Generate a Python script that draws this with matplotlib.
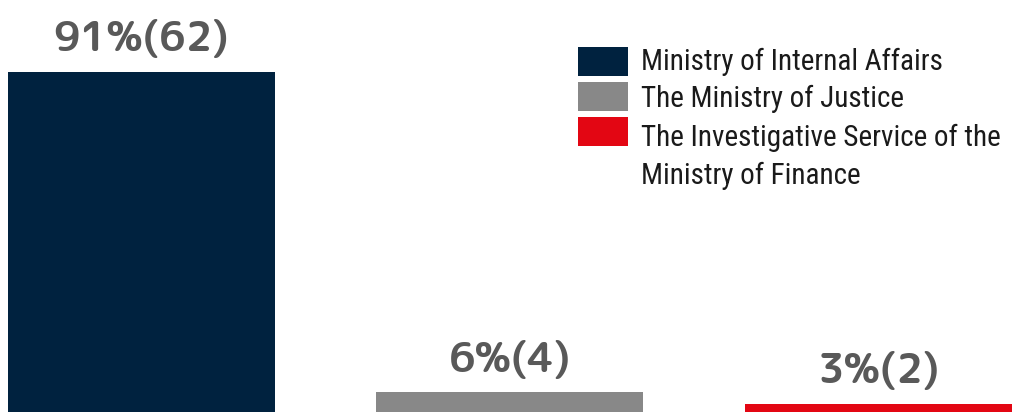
import matplotlib
matplotlib.use("Agg")
import matplotlib.pyplot as plt
from matplotlib.patches import Rectangle

# Share of cases by investigating body, with case counts
categories = ["Ministry of Internal Affairs",
              "The Ministry of Justice",
              "The Investigative Service of the\nMinistry of Finance"]
percents = [91, 6, 3]
counts = [62, 4, 2]
colors = ["#00223f", "#888888", "#e30613"]
value_labels = [f"{p}%({c})" for p, c in zip(percents, counts)]

W, H, DPI = 1024, 412, 100
fig = plt.figure(figsize=(W / DPI, H / DPI), dpi=DPI)
ax = fig.add_axes([0, 0, 1, 1])
ax.set_axis_off()

xpos = list(range(len(categories)))
ax.bar(xpos, percents, width=0.7246, color=colors)
ax.set_xlim(-0.384, 2.395)
ax.set_ylim(0.8, 110.1)

for x, v, lab in zip(xpos, percents, value_labels):
    ax.annotate(lab, (x, v), xytext=(0, 15), textcoords="offset points",
                ha="center", va="baseline", fontsize=30, fontweight="bold",
                family=["Rounded Mplus 1c Bold", "DejaVu Sans"], color="#595959")

# Legend drawn in pixel positions on the figure
def fx(px):
    return px / W

def fy(py):
    return 1 - py / H

sw_left, sw_w, sw_h = 578, 50, 29
sw_tops = [47, 82, 117]
text_x = 641
baselines = [70, 107, 146]
line_step = 38
for top, base, col, lab in zip(sw_tops, baselines, colors, categories):
    fig.patches.append(Rectangle((fx(sw_left), fy(top + sw_h)), sw_w / W, sw_h / H,
                                 transform=fig.transFigure, color=col, lw=0))
    for i, line in enumerate(lab.split("\n")):
        fig.text(fx(text_x), fy(base + i * line_step), line, ha="left", va="baseline",
                 fontsize=21, family=["Roboto Condensed", "DejaVu Sans"], color="#1a1a1a")

fig.savefig("out.png", dpi=DPI)
